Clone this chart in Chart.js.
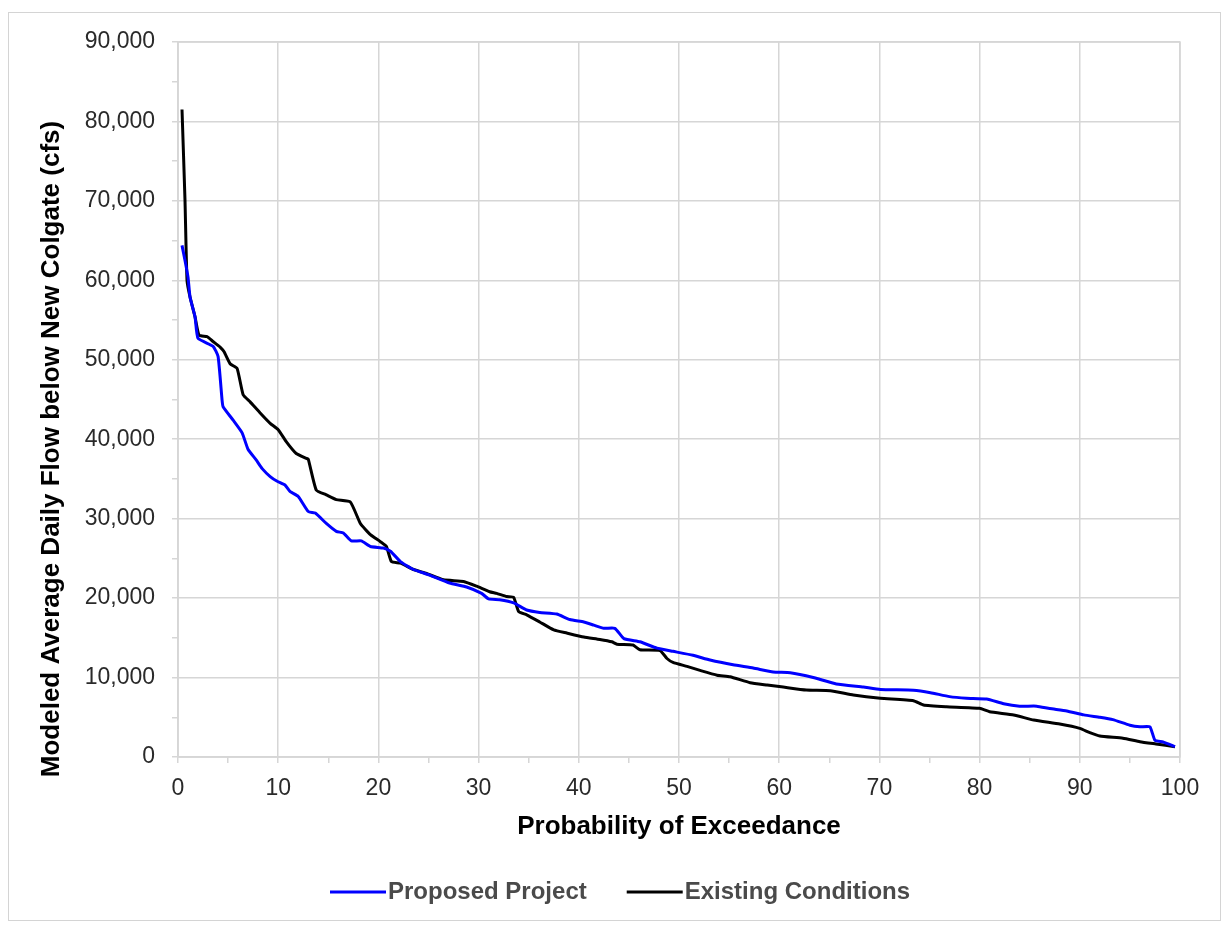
<!DOCTYPE html>
<html>
<head>
<meta charset="utf-8">
<script src="https://cdn.jsdelivr.net/npm/chart.js@4/dist/chart.umd.min.js"></script>
<style>
body { margin:0; background:#fff; }
#frame { position:absolute; left:8px; top:12px; width:1211px; height:907px; border:1px solid #d4d4d4; }
#wrap { position:absolute; left:0; top:0; width:1223px; height:925px; }
</style>
</head>
<body>
<div id="frame"></div>
<div id="wrap"><canvas id="flowchart"></canvas></div>
<script>
// probability of exceedance (%) and modeled flow (cfs)
var proposedProb = [0.4,0.7,1.0,1.2,1.7,2.0,3.5,4.0,4.4,4.5,5.5,6.4,7.0,7.8,8.4,9.2,9.9,10.7,11.2,12.0,13.0,13.7,14.8,15.8,16.5,17.3,18.3,19.2,20.5,21.2,22.2,23.5,25.1,27.1,28.8,30.3,31.0,32.1,33.5,34.8,36.1,37.8,39.1,40.5,41.5,42.5,43.6,44.5,46.1,47.8,49.4,51.4,53.1,55.4,57.4,59.4,61.1,63.4,65.7,68.4,70.1,73.4,75.1,77.0,78.7,80.7,82.4,84.0,85.7,87.0,88.7,90.4,92.0,93.3,95.0,96.0,97.0,97.5,98.3,99.5];
var proposedFlow = [64400,62500,60400,57900,55400,52700,51700,50400,44900,44100,42400,40800,38700,37400,36300,35300,34700,34200,33400,32800,30900,30700,29400,28400,28200,27200,27200,26500,26300,25900,24600,23600,22900,21900,21400,20600,19900,19800,19400,18500,18200,18000,17300,17000,16600,16200,16200,14900,14500,13700,13300,12800,12200,11600,11200,10700,10600,10000,9200,8800,8500,8400,8100,7600,7400,7300,6700,6400,6400,6100,5800,5300,5000,4700,4000,3800,3800,2100,1900,1300];

var existingProb = [0.4,0.7,0.9,1.2,1.7,2.1,2.9,3.5,4.2,4.6,5.2,5.9,6.5,7.2,8.2,9.2,10.0,10.8,11.8,12.8,13.0,13.8,14.8,15.8,17.2,18.2,19.2,20.2,20.8,21.3,22.2,23.5,24.8,26.5,28.5,29.8,31.1,31.8,32.8,33.5,34.0,34.8,36.1,37.5,38.8,40.5,42.1,43.3,43.8,45.4,46.1,48.1,48.8,49.4,50.8,52.1,53.8,55.1,57.1,58.8,60.4,62.7,65.1,67.4,70.1,73.4,74.4,76.7,80.0,81.0,83.4,85.4,88.0,90.0,91.0,92.0,94.3,96.0,97.6,99.5];
var existingFlow = [81500,70000,60000,57900,55400,53100,52900,52300,51600,51000,49500,48900,45600,44700,43300,42000,41200,39700,38200,37600,37500,33600,33000,32400,32100,29400,28000,27100,26500,24600,24400,23600,23100,22300,22100,21500,20800,20600,20200,20100,18300,17900,17000,16000,15600,15100,14800,14500,14200,14100,13500,13400,12400,11900,11400,10900,10300,10100,9350,9060,8800,8430,8350,7800,7390,7090,6550,6330,6130,5700,5290,4660,4150,3610,3060,2640,2350,1930,1640,1300];

var seriesNames = ['Proposed Project','Existing Conditions'];
var seriesColors = ['#0000ff','#000000'];
var yTitle = 'Modeled Average Daily Flow below New Colgate (cfs)';

function toPoints(xs, ys) {
    var pts = [];
    for (var i = 0; i < xs.length; i++) {
        pts.push({x: xs[i], y: ys[i]});
    }
    return pts;
}

var gridGray = '#d6d6d6';
var fam = 'Liberation Sans, Arial, sans-serif';

// y title sits a bit lower than the axis centre, and the legend is spread wider
// than the built-in one allows, so both are drawn here
var extras = {
    id: 'extras',
    afterDraw: function(chart) {
        var a = chart.chartArea, c = chart.ctx;
        c.save();
        c.strokeStyle = gridGray;
        c.lineWidth = 1.5;
        c.strokeRect(a.left, a.top, a.right - a.left, a.bottom - a.top);

        c.translate(52, 449);
        c.rotate(-Math.PI / 2);
        c.fillStyle = '#000';
        c.font = 'bold 26px ' + fam;
        c.textAlign = 'center';
        c.textBaseline = 'middle';
        c.fillText(yTitle, 0, 0);
        c.restore();

        c.save();
        c.font = 'bold 24px ' + fam;
        c.textBaseline = 'middle';
        var x = 330, y = 892;
        chart.data.datasets.forEach(function(ds) {
            c.fillStyle = ds.borderColor;
            c.fillRect(x, y - 1.5, 56, 3);
            x += 58;
            c.fillStyle = '#4a4a4a';
            c.fillText(ds.label, x, y);
            x += c.measureText(ds.label).width + 40;
        });
        c.restore();
    }
};

var ctx = document.getElementById('flowchart');
var flowChart = new Chart(ctx, {
    type: 'line',
    data: {
        datasets: [
            {
                label: seriesNames[0],
                data: toPoints(proposedProb, proposedFlow),
                borderColor: seriesColors[0],
                backgroundColor: seriesColors[0],
                borderWidth: 3,
                pointRadius: 0,
                tension: 0.15
            },
            {
                label: seriesNames[1],
                data: toPoints(existingProb, existingFlow),
                borderColor: seriesColors[1],
                backgroundColor: seriesColors[1],
                borderWidth: 3,
                pointRadius: 0,
                tension: 0.15
            }
        ]
    },
    options: {
        responsive: true,
        maintainAspectRatio: false,
        animation: false,
        layout: { padding: { left: 10, top: 42, right: 43, bottom: 55 } },
        plugins: {
            tooltip: { enabled: false },
            legend: { display: false }
        },
        scales: {
            x: {
                type: 'linear',
                min: 0,
                max: 100,
                afterFit: function(scale) { scale.height = 113; },
                ticks: {
                    stepSize: 5,
                    autoSkip: false,
                    maxRotation: 0,
                    padding: 12,
                    color: '#2a2a2a',
                    font: { family: fam, size: 23 },
                    callback: function(v) { return v % 10 === 0 ? v : ''; }
                },
                grid: {
                    color: function(c) { return c.tick && c.tick.value % 10 === 0 ? gridGray : 'rgba(0,0,0,0)'; },
                    tickColor: gridGray,
                    tickLength: 6,
                    lineWidth: 1.5
                },
                border: { color: gridGray, width: 1.5 },
                title: {
                    display: true,
                    text: 'Probability of Exceedance',
                    color: '#000',
                    font: { family: fam, size: 26, weight: 'bold' },
                    padding: { top: 0, bottom: 28 }
                }
            },
            y: {
                min: 0,
                max: 90000,
                afterFit: function(scale) { scale.width = 168; },
                ticks: {
                    stepSize: 5000,
                    autoSkip: false,
                    padding: 17,
                    color: '#2a2a2a',
                    font: { family: fam, size: 23 },
                    callback: function(v) { return v % 10000 === 0 ? v.toLocaleString('en-US') : ''; }
                },
                grid: {
                    color: function(c) { return c.tick && c.tick.value % 10000 === 0 ? gridGray : 'rgba(0,0,0,0)'; },
                    tickColor: gridGray,
                    tickLength: 6,
                    lineWidth: 1.5
                },
                border: { color: gridGray, width: 1.5 }
            }
        }
    },
    plugins: [extras]
});
console.log(flowChart.chartArea);
</script>
</body>
</html>
